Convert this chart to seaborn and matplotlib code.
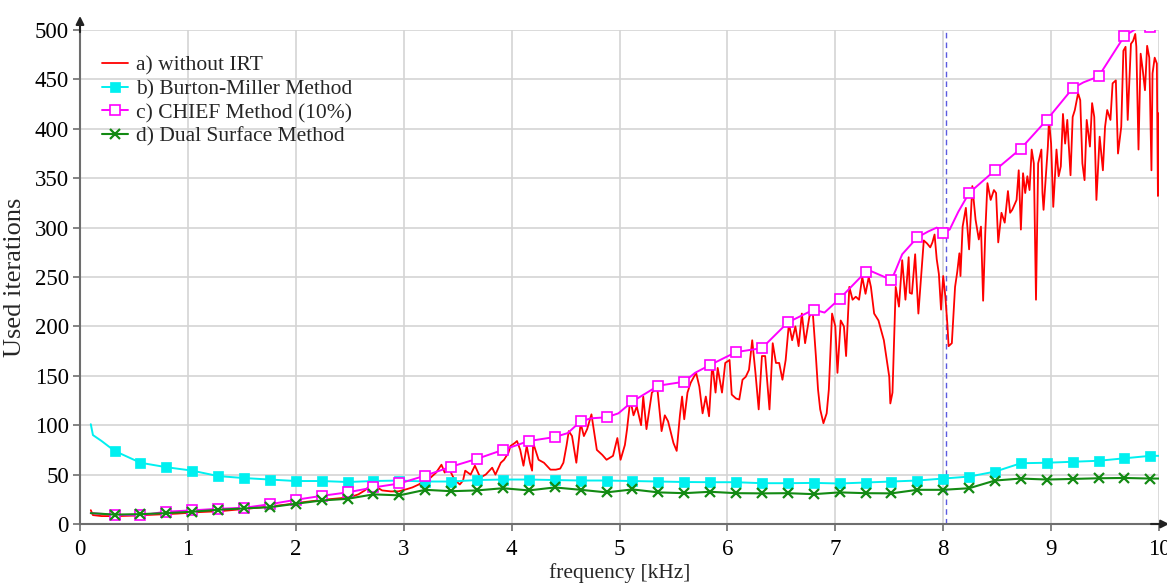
import numpy as np
import pandas as pd
import matplotlib
matplotlib.use("Agg")
import matplotlib.pyplot as plt
import seaborn as sns

# a) without IRT  (frequency in kHz, iterations)
red_f = [0.10, 0.12, 0.20, 0.35, 0.50, 0.70, 0.90, 1.10, 1.30, 1.50, 1.70, 1.90, 2.10, 2.30, 2.50,
         2.58, 2.64, 2.70, 2.74, 2.80, 2.88, 2.95, 3.02, 3.08, 3.14, 3.20, 3.25, 3.30, 3.35, 3.38,
         3.42, 3.47, 3.52, 3.55, 3.57, 3.62, 3.66, 3.71, 3.76, 3.82, 3.85, 3.90, 3.93, 3.97, 3.99,
         4.03, 4.05, 4.08, 4.11, 4.14, 4.17, 4.19, 4.20, 4.25, 4.30, 4.36, 4.41, 4.45, 4.48, 4.51,
         4.53, 4.56, 4.60, 4.64, 4.67, 4.70, 4.74, 4.79, 4.84, 4.88, 4.94, 4.98, 5.01, 5.05, 5.07,
         5.10, 5.13, 5.16, 5.20, 5.22, 5.25, 5.30, 5.35, 5.39, 5.42, 5.45, 5.50, 5.53, 5.56, 5.58,
         5.60, 5.63, 5.66, 5.71, 5.74, 5.77, 5.80, 5.83, 5.86, 5.89, 5.91, 5.95, 5.98, 6.02, 6.04,
         6.08, 6.11, 6.14, 6.17, 6.20, 6.23, 6.26, 6.29, 6.32, 6.35, 6.39, 6.42, 6.45, 6.48, 6.51,
         6.54, 6.57, 6.60, 6.63, 6.66, 6.69, 6.72, 6.76, 6.79, 6.82, 6.84, 6.86, 6.89, 6.92, 6.94,
         6.97, 7.00, 7.02, 7.05, 7.08, 7.10, 7.13, 7.16, 7.19, 7.22, 7.25, 7.28, 7.31, 7.33, 7.36,
         7.40, 7.45, 7.50, 7.51, 7.53, 7.56, 7.59, 7.62, 7.65, 7.68, 7.69, 7.71, 7.74, 7.77, 7.82,
         7.85, 7.88, 7.90, 7.92, 7.94, 7.96, 7.98, 8.00, 8.02, 8.04, 8.05, 8.08, 8.11, 8.13, 8.15,
         8.16, 8.18, 8.21, 8.24, 8.27, 8.30, 8.33, 8.35, 8.37, 8.39, 8.41, 8.44, 8.47, 8.49, 8.51,
         8.54, 8.57, 8.60, 8.62, 8.64, 8.68, 8.70, 8.72, 8.74, 8.76, 8.78, 8.80, 8.82, 8.84, 8.86,
         8.88, 8.91, 8.92, 8.93, 8.97, 8.98, 9.00, 9.02, 9.05, 9.07, 9.09, 9.11, 9.13, 9.15, 9.18,
         9.20, 9.22, 9.25, 9.27, 9.29, 9.31, 9.33, 9.36, 9.38, 9.40, 9.42, 9.45, 9.48, 9.50, 9.52,
         9.55, 9.57, 9.60, 9.62, 9.65, 9.67, 9.69, 9.71, 9.74, 9.76, 9.78, 9.79, 9.81, 9.83, 9.85,
         9.87, 9.89, 9.91, 9.93, 9.94, 9.96, 9.98, 9.99, 10.0]
red_v = [14, 9, 8, 8, 8.5, 9.5, 10.5, 12, 13, 15, 17, 19.5, 22.5, 25, 27,
         30, 34, 40, 38, 34, 33, 33, 35, 37, 40, 45, 47, 52, 60, 52,
         56, 45, 40, 44, 54, 50, 59, 47, 50, 57, 50, 62, 65, 72, 79,
         82, 84, 75, 59, 79, 62, 54, 82, 65, 62, 55, 55, 56, 62, 80,
         94, 89, 62, 102, 89, 96, 111, 75, 70, 65, 69, 87, 65, 80, 96,
         126, 110, 119, 100, 129, 96, 133, 138, 94, 110, 104, 82, 74, 110, 129,
         106, 133, 143, 153, 139, 112, 129, 109, 163, 133, 158, 133, 163, 166, 131,
         127, 126, 146, 149, 156, 186, 153, 116, 170, 170, 116, 183, 163, 163, 146,
         166, 203, 186, 200, 180, 213, 183, 210, 216, 170, 136, 116, 102, 112, 136,
         213, 200, 153, 206, 200, 170, 240, 227, 230, 227, 250, 233, 250, 240, 213,
         206, 186, 149, 122, 133, 240, 220, 267, 227, 270, 234, 233, 273, 213, 287,
         284, 280, 285, 293, 268, 253, 217, 251, 230, 200, 180, 183, 240, 255, 274,
         251, 301, 320, 278, 342, 308, 288, 301, 226, 295, 345, 328, 338, 335, 285,
         315, 305, 337, 315, 318, 328, 358, 298, 355, 335, 352, 338, 379, 365, 227,
         365, 379, 335, 318, 382, 409, 385, 321, 379, 352, 362, 415, 385, 409, 353,
         412, 419, 436, 429, 365, 348, 409, 382, 426, 412, 328, 392, 358, 402, 419,
         409, 446, 449, 375, 402, 479, 483, 409, 486, 489, 496, 483, 379, 476, 459,
         439, 484, 472, 358, 456, 472, 466, 332, 416]

# b) Burton-Miller Method
cyan_f = [0.10, 0.12, 0.20, 0.32, 0.56, 0.80, 1.04, 1.28, 1.52, 1.76, 2.00, 2.24, 2.48, 2.72, 2.96,
          3.20, 3.44, 3.68, 3.92, 4.16, 4.40, 4.64, 4.88, 5.12, 5.36, 5.60, 5.84, 6.08, 6.32, 6.56,
          6.80, 7.04, 7.28, 7.52, 7.76, 8.00, 8.24, 8.48, 8.72, 8.96, 9.20, 9.44, 9.68, 9.92, 10.0]
cyan_v = [101, 90, 84, 74, 62, 57.5, 54, 48.5, 46.5, 45, 43.5, 43.5, 42.5, 43.5, 44,
          43, 43, 44.5, 45, 45, 44.5, 44, 44, 43.5, 43, 42.5, 42.3, 42.3, 41.3, 41.3,
          41.6, 41, 42, 43, 44, 46, 48, 53, 61.5, 62, 63, 64, 66.5, 69, 69]

# c) CHIEF Method (10%)
mag_f = [0.10, 0.32, 0.56, 0.80, 1.04, 1.28, 1.52, 1.76, 2.00, 2.24, 2.48, 2.72, 2.96, 3.20, 3.44,
         3.68, 3.92, 4.16, 4.40, 4.52, 4.64, 4.74, 4.88, 4.99, 5.12, 5.36, 5.60, 5.70, 5.84, 6.08,
         6.32, 6.56, 6.80, 6.90, 7.04, 7.28, 7.33, 7.52, 7.56, 7.62, 7.76, 7.86, 7.94, 8.00, 8.06,
         8.14, 8.24, 8.48, 8.72, 8.96, 9.20, 9.30, 9.44, 9.68, 9.80, 9.92, 10.0]
mag_v = [11, 9.4, 8.7, 12.5, 13.8, 15.4, 16.4, 20, 24.5, 28.5, 32, 37, 41, 49, 58,
         66, 75, 84, 88, 92, 104, 107, 108, 112, 124, 140, 144, 153, 161, 174,
         178, 204, 217, 214, 228, 255, 256, 247, 257, 273, 290, 296, 300, 295, 298,
         316, 335, 358, 380, 409, 441, 447, 453, 494, 502, 503, 503]

# d) Dual Surface Method
green_f = [0.10, 0.32, 0.56, 0.80, 1.04, 1.28, 1.52, 1.76, 2.00, 2.24, 2.48, 2.72, 2.96, 3.20, 3.44,
           3.68, 3.92, 4.16, 4.40, 4.64, 4.88, 5.12, 5.36, 5.60, 5.84, 6.08, 6.32, 6.56, 6.80, 7.04,
           7.28, 7.52, 7.76, 8.00, 8.24, 8.48, 8.72, 8.96, 9.20, 9.44, 9.68, 9.92, 10.0]
green_v = [11, 9.5, 10, 11, 12.4, 14.4, 15.8, 17, 20.5, 23.8, 25.5, 30, 29, 34.6, 33.2,
           34, 36.2, 34, 37, 34.6, 32, 35, 32, 31.2, 32.6, 31.2, 31, 31.2, 30.2, 32,
           31.2, 31, 34.6, 34.6, 36.2, 44, 46, 45, 45.6, 46.3, 46.6, 46, 46]

labels = ["a) without IRT", "b) Burton-Miller Method", "c) CHIEF Method (10%)", "d) Dual Surface Method"]


def marker_idx(freqs):
    # markers sit every 0.24 kHz starting at 0.32 kHz
    out = []
    for i, f in enumerate(freqs):
        k = (f - 0.32) / 0.24
        if f >= 0.3 and abs(k - round(k)) < 1e-6:
            out.append(i)
    return out


sns.set_style("whitegrid")
plt.rcParams['font.family'] = ['Liberation Serif', 'DejaVu Serif']

fig = plt.figure(figsize=(11.67, 5.83), dpi=100)
ax = fig.add_axes([80 / 1167, 59 / 583, 1079 / 1167, 494 / 583])

df_red = pd.DataFrame({"f": red_f, "v": red_v})
df_cyan = pd.DataFrame({"f": cyan_f, "v": cyan_v})
df_mag = pd.DataFrame({"f": mag_f, "v": mag_v})
df_green = pd.DataFrame({"f": green_f, "v": green_v})

sns.lineplot(data=df_red, x="f", y="v", ax=ax, color="#ff0000", lw=1.3, ls="-",
             estimator=None, sort=False, label=labels[0])
sns.lineplot(data=df_cyan, x="f", y="v", ax=ax, color="#00f0f0", lw=1.4, ls="-",
             marker="s", markersize=7, markeredgewidth=0.5, markeredgecolor="#00f0f0",
             markevery=marker_idx(cyan_f),
             estimator=None, sort=False, label=labels[1])
sns.lineplot(data=df_mag, x="f", y="v", ax=ax, color="#ff00ff", lw=1.4, ls="-",
             marker="s", markersize=6.5, markerfacecolor="white", markeredgecolor="#ff00ff",
             markeredgewidth=1.2, markevery=marker_idx(mag_f),
             estimator=None, sort=False, label=labels[2])
sns.lineplot(data=df_green, x="f", y="v", ax=ax, color="#138a13", lw=1.5, ls="-",
             marker="x", markersize=6.5, markeredgewidth=1.6, markeredgecolor="#138a13",
             markevery=marker_idx(green_f),
             estimator=None, sort=False, label=labels[3])

ax.axvline(8.03, color="#5a5ae0", lw=1.0, ls=(0, (4, 3)), zorder=1)

ax.set_xlim(0, 10)
ax.set_ylim(0, 500)
ax.set_xticks(range(0, 11))
ax.set_yticks(range(0, 501, 50))
ax.grid(True, color="#d4d4d4", lw=1.2)
ax.set_axisbelow(True)

for s in ["top", "right"]:
    ax.spines[s].set_visible(False)
for s in ["left", "bottom"]:
    ax.spines[s].set_color("#6e6e6e")
    ax.spines[s].set_linewidth(1.5)

ax.tick_params(axis="both", which="both", bottom=True, left=True, direction="out",
               length=5, width=1.2, color="#6e6e6e", labelsize=16.5, labelcolor="black")
ax.tick_params(axis="x", pad=6)
ax.tick_params(axis="y", pad=3)

ax.set_xlabel("frequency [kHz]", fontsize=15.5, labelpad=2)
ax.set_ylabel("Used iterations", fontsize=19, labelpad=6)

# arrow heads at the axis ends
ax.annotate("", xy=(0, 1.034), xytext=(0, 0.99), xycoords="axes fraction",
            arrowprops=dict(arrowstyle="-|>", color="#222222", lw=1.5, mutation_scale=12),
            annotation_clip=False)
ax.annotate("", xy=(1.012, 0), xytext=(0.99, 0), xycoords="axes fraction",
            arrowprops=dict(arrowstyle="-|>", color="#222222", lw=1.5, mutation_scale=12),
            annotation_clip=False)

ax.legend(loc="upper left", bbox_to_anchor=(0.012, 0.965), frameon=False, fontsize=15.5,
          handlelength=1.25, labelspacing=0.16, handletextpad=0.35, borderaxespad=0)

fig.savefig("out.png", dpi=100)
